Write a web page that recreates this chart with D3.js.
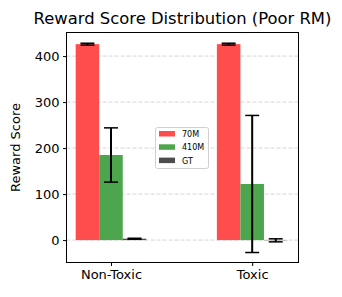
<!DOCTYPE html>
<html>
<head>
<meta charset="utf-8">
<script src="https://cdn.jsdelivr.net/npm/d3@7"></script>
<style>
  body { margin: 0; background: #fff; }
  svg { display: block; font-family: "DejaVu Sans", sans-serif; }
</style>
</head>
<body>
<div id="chart"></div>
<script>
const categories = ['Non-Toxic', 'Toxic'];
const seriesNames = ['70M', '410M', 'GT'];
const seriesColors = ['rgb(255,77,77)', 'rgb(77,166,77)', 'rgb(77,77,77)'];
// mean values per series, one entry per category
const means70M = [426, 426];
const means410M = [185, 122];
const meansGT = [3, -0.5];
// standard deviations (error bars)
const err70M = [2, 2];
const err410M = [59, 149];
const errGT = [1, 3.3];
const yTicks = [0, 100, 200, 300, 400];

const width = 342, height = 297;
const frame = { left: 66.5, right: 298.5, top: 32.5, bottom: 262.5 };

const means = [means70M, means410M, meansGT];
const errs = [err70M, err410M, errGT];
const barW = 0.5 / 3;

const x = d3.scaleLinear().domain([-0.315, 1.328]).range([frame.left, frame.right]);
const y = d3.scaleLinear().domain([-48.7, 451.3]).range([frame.bottom, frame.top]);

const svg = d3.select('#chart').append('svg')
    .attr('width', width)
    .attr('height', height);

// grid
svg.append('g')
    .selectAll('line')
    .data(yTicks)
    .join('line')
    .attr('x1', frame.left).attr('x2', frame.right)
    .attr('y1', d => y(d)).attr('y2', d => y(d))
    .attr('stroke', '#b0b0b0')
    .attr('stroke-opacity', 0.5)
    .attr('stroke-dasharray', '4,2');

// bars
const rows = [];
means.forEach((s, si) => s.forEach((v, ci) => {
    rows.push({ si, ci, v, e: errs[si][ci], cx: ci + (si - 1) * barW });
}));

svg.append('g')
    .selectAll('rect')
    .data(rows)
    .join('rect')
    .attr('x', d => x(d.cx - barW / 2))
    .attr('width', d => x(d.cx + barW / 2) - x(d.cx - barW / 2))
    .attr('y', d => Math.min(y(d.v), y(0)))
    .attr('height', d => Math.abs(y(0) - y(d.v)))
    .attr('fill', d => seriesColors[d.si]);

// error bars
const eb = svg.append('g').attr('stroke', '#000').attr('stroke-width', 2);
rows.forEach(d => {
    const px = x(d.cx);
    eb.append('line').attr('x1', px).attr('x2', px)
        .attr('y1', y(d.v - d.e)).attr('y2', y(d.v + d.e));
    [d.v - d.e, d.v + d.e].forEach(t => {
        eb.append('line').attr('x1', px - 7).attr('x2', px + 7)
            .attr('y1', y(t)).attr('y2', y(t)).attr('stroke-width', 1.5);
    });
});

// frame
svg.append('rect')
    .attr('x', frame.left).attr('y', frame.top)
    .attr('width', frame.right - frame.left)
    .attr('height', frame.bottom - frame.top)
    .attr('fill', 'none').attr('stroke', '#000').attr('stroke-width', 1);

// axes
const yAxis = d3.axisLeft(y).tickValues(yTicks).tickSize(3.5).tickPadding(3.5);
svg.append('g')
    .attr('transform', `translate(${frame.left},0)`)
    .call(yAxis)
    .call(g => g.select('.domain').remove())
    .call(g => g.selectAll('text').attr('font-size', 13).attr('font-family', 'DejaVu Sans').attr('fill', '#000'));

const xAxis = d3.axisBottom(x).tickValues([0, 1]).tickFormat(i => categories[i]).tickSize(3.5).tickPadding(3.5);
svg.append('g')
    .attr('transform', `translate(0,${frame.bottom})`)
    .call(xAxis)
    .call(g => g.select('.domain').remove())
    .call(g => g.selectAll('text').attr('font-size', 13).attr('font-family', 'DejaVu Sans').attr('fill', '#000'));

// title
svg.append('text')
    .attr('x', (frame.left + frame.right) / 2)
    .attr('y', 24)
    .attr('text-anchor', 'middle')
    .attr('font-size', 16.4)
    .text('Reward Score Distribution (Poor RM)');

// y label
svg.append('text')
    .attr('transform', `translate(20,${(frame.top + frame.bottom) / 2}) rotate(-90)`)
    .attr('text-anchor', 'middle')
    .attr('font-size', 13)
    .text('Reward Score');

// legend
const lg = svg.append('g').attr('transform', 'translate(155.5,127.5)');
lg.append('rect')
    .attr('width', 53).attr('height', 41).attr('rx', 2)
    .attr('fill', '#fff').attr('fill-opacity', 0.8)
    .attr('stroke', '#d0d0d0').attr('stroke-width', 1);
seriesNames.forEach((n, i) => {
    lg.append('rect')
        .attr('x', 3.5).attr('y', 3.5 + i * 13.3)
        .attr('width', 16).attr('height', 5.5)
        .attr('fill', seriesColors[i]);
    lg.append('text')
        .attr('x', 26.5).attr('y', 9.5 + i * 13.3)
        .attr('font-size', 8)
        .attr('textLength', null)
        .text(n);
});
</script>
</body>
</html>
